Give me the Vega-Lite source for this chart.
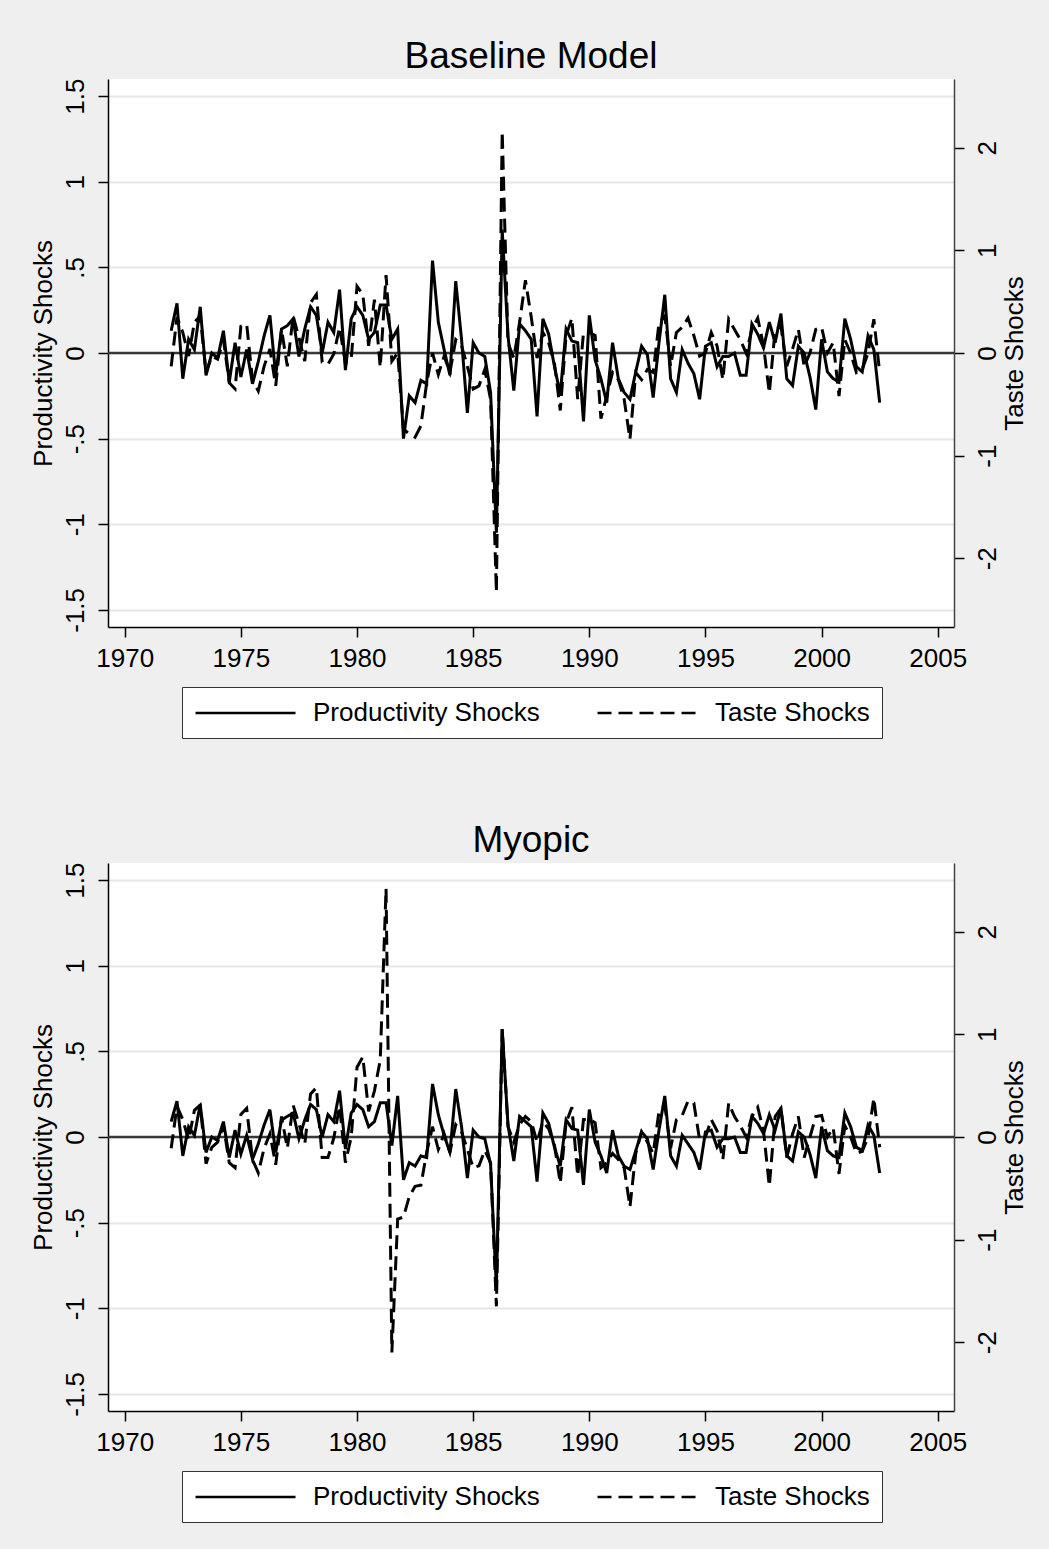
{
"$schema": "https://vega.github.io/schema/vega-lite/v6.json",
"background": "#efefef",
"autosize": {"type": "pad"},
"padding": {"top": 38, "left": 30, "right": 22, "bottom": 26},
"config": {
  "font": "Liberation Sans",
  "view": {"stroke": null, "fill": "white"},
  "axis": {"labelFont": "Liberation Sans", "labelFontSize": 26, "labelColor": "black", "titleFont": "Liberation Sans", "titleFontSize": 26, "titleFontWeight": "normal", "titleColor": "black", "tickSize": 10, "tickColor": "black", "tickWidth": 1.5, "domainColor": "black", "domainWidth": 1.5, "gridColor": "#e6e6e6", "gridWidth": 2, "labelPadding": 10},
  "legend": {"labelFont": "Liberation Sans"},
  "title": {"font": "Liberation Sans", "fontSize": 37, "fontWeight": "normal", "color": "black", "anchor": "middle", "offset": 2}
},
"datasets": {"shocks": [
{"year":1972.00,"base_prod":0.13,"base_taste":-0.13,"myo_prod":0.09,"myo_taste":-0.11},
{"year":1972.25,"base_prod":0.29,"base_taste":0.35,"myo_prod":0.21,"myo_taste":0.30},
{"year":1972.50,"base_prod":-0.15,"base_taste":0.20,"myo_prod":-0.11,"myo_taste":0.17},
{"year":1972.75,"base_prod":0.08,"base_taste":-0.03,"myo_prod":0.06,"myo_taste":-0.03},
{"year":1973.00,"base_prod":0.02,"base_taste":0.30,"myo_prod":0.01,"myo_taste":0.26},
{"year":1973.25,"base_prod":0.27,"base_taste":0.36,"myo_prod":0.19,"myo_taste":0.31},
{"year":1973.50,"base_prod":-0.13,"base_taste":-0.19,"myo_prod":-0.09,"myo_taste":-0.26},
{"year":1973.75,"base_prod":0.00,"base_taste":-0.03,"myo_prod":0.00,"myo_taste":-0.10},
{"year":1974.00,"base_prod":-0.03,"base_taste":-0.06,"myo_prod":-0.02,"myo_taste":-0.05},
{"year":1974.25,"base_prod":0.13,"base_taste":0.13,"myo_prod":0.09,"myo_taste":0.11},
{"year":1974.50,"base_prod":-0.17,"base_taste":-0.29,"myo_prod":-0.12,"myo_taste":-0.25},
{"year":1974.75,"base_prod":0.06,"base_taste":-0.35,"myo_prod":0.04,"myo_taste":-0.30},
{"year":1975.00,"base_prod":-0.14,"base_taste":0.26,"myo_prod":-0.10,"myo_taste":0.22},
{"year":1975.25,"base_prod":0.02,"base_taste":0.28,"myo_prod":0.01,"myo_taste":0.28},
{"year":1975.50,"base_prod":-0.18,"base_taste":-0.26,"myo_prod":-0.13,"myo_taste":-0.22},
{"year":1975.75,"base_prod":-0.05,"base_taste":-0.37,"myo_prod":-0.04,"myo_taste":-0.35},
{"year":1976.00,"base_prod":0.10,"base_taste":-0.13,"myo_prod":0.07,"myo_taste":-0.11},
{"year":1976.25,"base_prod":0.22,"base_taste":0.04,"myo_prod":0.16,"myo_taste":0.03},
{"year":1976.50,"base_prod":-0.13,"base_taste":-0.32,"myo_prod":-0.09,"myo_taste":-0.27},
{"year":1976.75,"base_prod":0.14,"base_taste":0.23,"myo_prod":0.10,"myo_taste":0.20},
{"year":1977.00,"base_prod":0.16,"base_taste":-0.13,"myo_prod":0.12,"myo_taste":-0.11},
{"year":1977.25,"base_prod":0.20,"base_taste":0.36,"myo_prod":0.14,"myo_taste":0.31},
{"year":1977.50,"base_prod":-0.02,"base_taste":0.15,"myo_prod":-0.01,"myo_taste":0.13},
{"year":1977.75,"base_prod":0.14,"base_taste":-0.08,"myo_prod":0.10,"myo_taste":-0.07},
{"year":1978.00,"base_prod":0.27,"base_taste":0.49,"myo_prod":0.19,"myo_taste":0.42},
{"year":1978.25,"base_prod":0.22,"base_taste":0.57,"myo_prod":0.16,"myo_taste":0.48},
{"year":1978.50,"base_prod":0.00,"base_taste":-0.09,"myo_prod":0.00,"myo_taste":-0.20},
{"year":1978.75,"base_prod":0.18,"base_taste":-0.11,"myo_prod":0.13,"myo_taste":-0.20},
{"year":1979.00,"base_prod":0.12,"base_taste":-0.01,"myo_prod":0.09,"myo_taste":-0.01},
{"year":1979.25,"base_prod":0.37,"base_taste":0.25,"myo_prod":0.27,"myo_taste":0.30},
{"year":1979.50,"base_prod":-0.10,"base_taste":-0.10,"myo_prod":-0.07,"myo_taste":-0.25},
{"year":1979.75,"base_prod":0.20,"base_taste":-0.06,"myo_prod":0.14,"myo_taste":0.00},
{"year":1980.00,"base_prod":0.27,"base_taste":0.65,"myo_prod":0.19,"myo_taste":0.68},
{"year":1980.25,"base_prod":0.22,"base_taste":0.57,"myo_prod":0.16,"myo_taste":0.78},
{"year":1980.50,"base_prod":0.08,"base_taste":0.07,"myo_prod":0.06,"myo_taste":0.25},
{"year":1980.75,"base_prod":0.12,"base_taste":0.52,"myo_prod":0.09,"myo_taste":0.45},
{"year":1981.00,"base_prod":0.28,"base_taste":-0.14,"myo_prod":0.20,"myo_taste":0.75},
{"year":1981.25,"base_prod":0.28,"base_taste":0.76,"myo_prod":0.20,"myo_taste":2.42},
{"year":1981.50,"base_prod":0.08,"base_taste":-0.08,"myo_prod":-0.05,"myo_taste":-2.10},
{"year":1981.75,"base_prod":0.14,"base_taste":0.00,"myo_prod":0.24,"myo_taste":-0.80},
{"year":1982.00,"base_prod":-0.50,"base_taste":-0.74,"myo_prod":-0.25,"myo_taste":-0.78},
{"year":1982.25,"base_prod":-0.25,"base_taste":-0.79,"myo_prod":-0.15,"myo_taste":-0.58},
{"year":1982.50,"base_prod":-0.29,"base_taste":-0.82,"myo_prod":-0.17,"myo_taste":-0.48},
{"year":1982.75,"base_prod":-0.16,"base_taste":-0.71,"myo_prod":-0.11,"myo_taste":-0.47},
{"year":1983.00,"base_prod":-0.18,"base_taste":-0.29,"myo_prod":-0.12,"myo_taste":-0.15},
{"year":1983.25,"base_prod":0.54,"base_taste":0.00,"myo_prod":0.31,"myo_taste":0.10},
{"year":1983.50,"base_prod":0.18,"base_taste":-0.21,"myo_prod":0.13,"myo_taste":-0.12},
{"year":1983.75,"base_prod":0.02,"base_taste":-0.03,"myo_prod":0.01,"myo_taste":0.03},
{"year":1984.00,"base_prod":-0.13,"base_taste":-0.19,"myo_prod":-0.09,"myo_taste":-0.15},
{"year":1984.25,"base_prod":0.42,"base_taste":0.13,"myo_prod":0.28,"myo_taste":0.12},
{"year":1984.50,"base_prod":0.08,"base_taste":0.07,"myo_prod":0.06,"myo_taste":0.05},
{"year":1984.75,"base_prod":-0.35,"base_taste":-0.13,"myo_prod":-0.24,"myo_taste":-0.12},
{"year":1985.00,"base_prod":0.06,"base_taste":-0.35,"myo_prod":0.04,"myo_taste":-0.30},
{"year":1985.25,"base_prod":0.00,"base_taste":-0.32,"myo_prod":0.00,"myo_taste":-0.28},
{"year":1985.50,"base_prod":-0.02,"base_taste":-0.16,"myo_prod":-0.01,"myo_taste":-0.13},
{"year":1985.75,"base_prod":-0.23,"base_taste":-0.45,"myo_prod":-0.16,"myo_taste":-0.25},
{"year":1986.00,"base_prod":-1.05,"base_taste":-2.33,"myo_prod":-0.88,"myo_taste":-1.65},
{"year":1986.25,"base_prod":0.72,"base_taste":2.16,"myo_prod":0.63,"myo_taste":1.05},
{"year":1986.50,"base_prod":0.10,"base_taste":0.10,"myo_prod":0.07,"myo_taste":0.10},
{"year":1986.75,"base_prod":-0.22,"base_taste":-0.05,"myo_prod":-0.14,"myo_taste":-0.05},
{"year":1987.00,"base_prod":0.17,"base_taste":0.30,"myo_prod":0.12,"myo_taste":0.12},
{"year":1987.25,"base_prod":0.13,"base_taste":0.71,"myo_prod":0.09,"myo_taste":0.20},
{"year":1987.50,"base_prod":0.08,"base_taste":0.35,"myo_prod":0.06,"myo_taste":0.15},
{"year":1987.75,"base_prod":-0.37,"base_taste":-0.05,"myo_prod":-0.26,"myo_taste":-0.05},
{"year":1988.00,"base_prod":0.20,"base_taste":0.20,"myo_prod":0.14,"myo_taste":0.15},
{"year":1988.25,"base_prod":0.11,"base_taste":0.10,"myo_prod":0.08,"myo_taste":0.08},
{"year":1988.50,"base_prod":-0.08,"base_taste":-0.10,"myo_prod":-0.06,"myo_taste":-0.08},
{"year":1988.75,"base_prod":-0.24,"base_taste":-0.56,"myo_prod":-0.17,"myo_taste":-0.45},
{"year":1989.00,"base_prod":0.14,"base_taste":0.17,"myo_prod":0.10,"myo_taste":0.14},
{"year":1989.25,"base_prod":0.07,"base_taste":0.34,"myo_prod":0.05,"myo_taste":0.29},
{"year":1989.50,"base_prod":0.06,"base_taste":-0.45,"myo_prod":0.04,"myo_taste":-0.38},
{"year":1989.75,"base_prod":-0.40,"base_taste":0.20,"myo_prod":-0.28,"myo_taste":0.17},
{"year":1990.00,"base_prod":0.22,"base_taste":0.20,"myo_prod":0.16,"myo_taste":0.17},
{"year":1990.25,"base_prod":-0.04,"base_taste":0.17,"myo_prod":-0.03,"myo_taste":0.14},
{"year":1990.50,"base_prod":-0.15,"base_taste":-0.64,"myo_prod":-0.11,"myo_taste":-0.30},
{"year":1990.75,"base_prod":-0.29,"base_taste":-0.42,"myo_prod":-0.21,"myo_taste":-0.25},
{"year":1991.00,"base_prod":0.06,"base_taste":-0.19,"myo_prod":0.04,"myo_taste":-0.16},
{"year":1991.25,"base_prod":-0.15,"base_taste":-0.26,"myo_prod":-0.11,"myo_taste":-0.22},
{"year":1991.50,"base_prod":-0.23,"base_taste":-0.45,"myo_prod":-0.17,"myo_taste":-0.30},
{"year":1991.75,"base_prod":-0.27,"base_taste":-0.84,"myo_prod":-0.19,"myo_taste":-0.68},
{"year":1992.00,"base_prod":-0.11,"base_taste":-0.19,"myo_prod":-0.08,"myo_taste":-0.16},
{"year":1992.25,"base_prod":0.04,"base_taste":-0.26,"myo_prod":0.03,"myo_taste":0.05},
{"year":1992.50,"base_prod":-0.01,"base_taste":-0.16,"myo_prod":-0.01,"myo_taste":-0.05},
{"year":1992.75,"base_prod":-0.26,"base_taste":-0.19,"myo_prod":-0.19,"myo_taste":-0.16},
{"year":1993.00,"base_prod":0.06,"base_taste":0.29,"myo_prod":0.04,"myo_taste":0.25},
{"year":1993.25,"base_prod":0.34,"base_taste":0.36,"myo_prod":0.24,"myo_taste":0.31},
{"year":1993.50,"base_prod":-0.15,"base_taste":-0.13,"myo_prod":-0.11,"myo_taste":-0.11},
{"year":1993.75,"base_prod":-0.23,"base_taste":0.20,"myo_prod":-0.17,"myo_taste":0.17},
{"year":1994.00,"base_prod":0.02,"base_taste":0.25,"myo_prod":0.01,"myo_taste":0.21},
{"year":1994.25,"base_prod":-0.06,"base_taste":0.34,"myo_prod":-0.04,"myo_taste":0.35},
{"year":1994.50,"base_prod":-0.12,"base_taste":0.17,"myo_prod":-0.09,"myo_taste":0.33},
{"year":1994.75,"base_prod":-0.27,"base_taste":-0.03,"myo_prod":-0.19,"myo_taste":-0.03},
{"year":1995.00,"base_prod":0.04,"base_taste":0.00,"myo_prod":0.03,"myo_taste":0.00},
{"year":1995.25,"base_prod":0.06,"base_taste":0.20,"myo_prod":0.04,"myo_taste":0.17},
{"year":1995.50,"base_prod":-0.08,"base_taste":0.07,"myo_prod":-0.06,"myo_taste":0.06},
{"year":1995.75,"base_prod":-0.02,"base_taste":-0.26,"myo_prod":-0.01,"myo_taste":-0.22},
{"year":1996.00,"base_prod":-0.02,"base_taste":0.33,"myo_prod":-0.01,"myo_taste":0.33},
{"year":1996.25,"base_prod":0.00,"base_taste":0.23,"myo_prod":0.00,"myo_taste":0.20},
{"year":1996.50,"base_prod":-0.13,"base_taste":0.13,"myo_prod":-0.09,"myo_taste":0.11},
{"year":1996.75,"base_prod":-0.13,"base_taste":0.00,"myo_prod":-0.09,"myo_taste":0.00},
{"year":1997.00,"base_prod":0.17,"base_taste":0.23,"myo_prod":0.12,"myo_taste":0.20},
{"year":1997.25,"base_prod":0.11,"base_taste":0.34,"myo_prod":0.08,"myo_taste":0.29},
{"year":1997.50,"base_prod":0.03,"base_taste":0.07,"myo_prod":0.02,"myo_taste":0.06},
{"year":1997.75,"base_prod":0.18,"base_taste":-0.39,"myo_prod":0.13,"myo_taste":-0.48},
{"year":1998.00,"base_prod":0.06,"base_taste":0.23,"myo_prod":0.04,"myo_taste":0.20},
{"year":1998.25,"base_prod":0.23,"base_taste":0.26,"myo_prod":0.17,"myo_taste":0.28},
{"year":1998.50,"base_prod":-0.15,"base_taste":-0.13,"myo_prod":-0.11,"myo_taste":-0.20},
{"year":1998.75,"base_prod":-0.19,"base_taste":0.04,"myo_prod":-0.14,"myo_taste":0.03},
{"year":1999.00,"base_prod":0.04,"base_taste":0.23,"myo_prod":0.03,"myo_taste":0.20},
{"year":1999.25,"base_prod":0.00,"base_taste":-0.13,"myo_prod":0.00,"myo_taste":-0.20},
{"year":1999.50,"base_prod":-0.14,"base_taste":0.00,"myo_prod":-0.10,"myo_taste":0.00},
{"year":1999.75,"base_prod":-0.33,"base_taste":0.23,"myo_prod":-0.24,"myo_taste":0.20},
{"year":2000.00,"base_prod":0.08,"base_taste":0.25,"myo_prod":0.06,"myo_taste":0.21},
{"year":2000.25,"base_prod":-0.11,"base_taste":0.00,"myo_prod":-0.08,"myo_taste":0.00},
{"year":2000.50,"base_prod":-0.15,"base_taste":0.10,"myo_prod":-0.11,"myo_taste":0.09},
{"year":2000.75,"base_prod":-0.17,"base_taste":-0.42,"myo_prod":-0.12,"myo_taste":-0.36},
{"year":2001.00,"base_prod":0.20,"base_taste":0.13,"myo_prod":0.14,"myo_taste":0.11},
{"year":2001.25,"base_prod":0.08,"base_taste":0.00,"myo_prod":0.06,"myo_taste":0.00},
{"year":2001.50,"base_prod":-0.08,"base_taste":-0.19,"myo_prod":-0.06,"myo_taste":-0.16},
{"year":2001.75,"base_prod":-0.11,"base_taste":-0.16,"myo_prod":-0.08,"myo_taste":-0.14},
{"year":2002.00,"base_prod":0.10,"base_taste":0.00,"myo_prod":0.07,"myo_taste":0.00},
{"year":2002.25,"base_prod":0.02,"base_taste":0.33,"myo_prod":0.01,"myo_taste":0.38},
{"year":2002.50,"base_prod":-0.29,"base_taste":-0.19,"myo_prod":-0.21,"myo_taste":-0.10}
]},
"resolve": {"scale": {"strokeDash": "independent"}, "legend": {"strokeDash": "independent"}},
"spacing": 83,
"vconcat": [
{
  "title": {"text": "Baseline Model"},
  "width": 846, "height": 548,
  "layer": [
    {"layer": [
      {"data": {"values": [{}]}, "mark": {"type": "rule", "color": "#383838", "strokeWidth": 2.5}, "encoding": {"y": {"datum": 0, "type": "quantitative"}}},
      {"data": {"name": "shocks"}, "mark": {"type": "line", "color": "black", "strokeWidth": 3},
       "encoding": {
         "x": {"field": "year", "type": "quantitative", "scale": {"domain": [1969.28, 2005.7], "nice": false, "zero": false}, "axis": {"values": [1970,1975,1980,1985,1990,1995,2000,2005], "format": "d", "title": null, "grid": false, "labelPadding": 8}},
         "y": {"field": "base_prod", "type": "quantitative", "scale": {"domain": [-1.6, 1.6], "nice": false, "zero": false}, "axis": {"title": "Productivity Shocks", "values": [-1.5,-1,-0.5,0,0.5,1,1.5], "labelExpr": "replace(toString(datum.value), '0.', '.')", "grid": true, "labelAngle": -90, "labelAlign": "center", "labelBaseline": "bottom", "titlePadding": 6}},
         "strokeDash": {"datum": "Productivity Shocks", "scale": {"domain": ["Productivity Shocks", "Taste Shocks"], "range": [[1, 0], [14, 7]]}, "legend": {"orient": "none", "legendX": 74, "legendY": 608, "direction": "horizontal", "title": null, "fillColor": "white", "strokeColor": "#333", "padding": 12, "symbolType": "M-1,0H7", "symbolSize": 625, "symbolStrokeWidth": 2.5, "symbolStrokeColor": "black", "labelFontSize": 26, "labelColor": "black", "labelOffset": 91, "columnPadding": 52, "labelLimit": 0}}
       }}
    ]},
    {"data": {"name": "shocks"}, "mark": {"type": "line", "color": "black", "strokeWidth": 3},
     "encoding": {
       "x": {"field": "year", "type": "quantitative"},
       "y": {"field": "base_taste", "type": "quantitative", "scale": {"domain": [-2.67, 2.67], "nice": false, "zero": false}, "axis": {"orient": "right", "title": "Taste Shocks", "values": [-2,-1,0,1,2], "labelExpr": "toString(datum.value)", "grid": false, "labelAngle": -90, "labelAlign": "center", "labelBaseline": "top", "titleAngle": -90, "titleBaseline": "top", "titlePadding": 1, "domainColor": "#444"}},
       "strokeDash": {"datum": "Taste Shocks"}
     }}
  ],
  "resolve": {"scale": {"y": "independent"}}
},
{
  "title": {"text": "Myopic"},
  "width": 846, "height": 548,
  "layer": [
    {"layer": [
      {"data": {"values": [{}]}, "mark": {"type": "rule", "color": "#383838", "strokeWidth": 2.5}, "encoding": {"y": {"datum": 0, "type": "quantitative"}}},
      {"data": {"name": "shocks"}, "mark": {"type": "line", "color": "black", "strokeWidth": 3},
       "encoding": {
         "x": {"field": "year", "type": "quantitative", "scale": {"domain": [1969.28, 2005.7], "nice": false, "zero": false}, "axis": {"values": [1970,1975,1980,1985,1990,1995,2000,2005], "format": "d", "title": null, "grid": false, "labelPadding": 8}},
         "y": {"field": "myo_prod", "type": "quantitative", "scale": {"domain": [-1.6, 1.6], "nice": false, "zero": false}, "axis": {"title": "Productivity Shocks", "values": [-1.5,-1,-0.5,0,0.5,1,1.5], "labelExpr": "replace(toString(datum.value), '0.', '.')", "grid": true, "labelAngle": -90, "labelAlign": "center", "labelBaseline": "bottom", "titlePadding": 6}},
         "strokeDash": {"datum": "Productivity Shocks", "scale": {"domain": ["Productivity Shocks", "Taste Shocks"], "range": [[1, 0], [14, 7]]}, "legend": {"orient": "none", "legendX": 74, "legendY": 608, "direction": "horizontal", "title": null, "fillColor": "white", "strokeColor": "#333", "padding": 12, "symbolType": "M-1,0H7", "symbolSize": 625, "symbolStrokeWidth": 2.5, "symbolStrokeColor": "black", "labelFontSize": 26, "labelColor": "black", "labelOffset": 91, "columnPadding": 52, "labelLimit": 0}}
       }}
    ]},
    {"data": {"name": "shocks"}, "mark": {"type": "line", "color": "black", "strokeWidth": 3},
     "encoding": {
       "x": {"field": "year", "type": "quantitative"},
       "y": {"field": "myo_taste", "type": "quantitative", "scale": {"domain": [-2.67, 2.67], "nice": false, "zero": false}, "axis": {"orient": "right", "title": "Taste Shocks", "values": [-2,-1,0,1,2], "labelExpr": "toString(datum.value)", "grid": false, "labelAngle": -90, "labelAlign": "center", "labelBaseline": "top", "titleAngle": -90, "titleBaseline": "top", "titlePadding": 1, "domainColor": "#444"}},
       "strokeDash": {"datum": "Taste Shocks"}
     }}
  ],
  "resolve": {"scale": {"y": "independent"}}
}
]
}
